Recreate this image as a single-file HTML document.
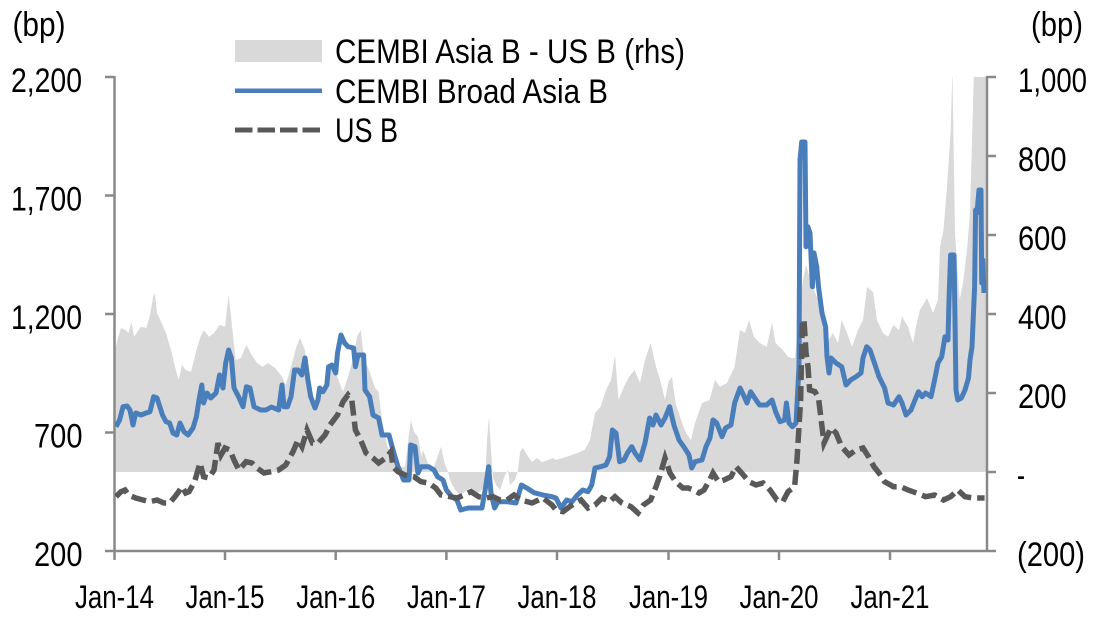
<!DOCTYPE html>
<html>
<head>
<meta charset="utf-8">
<style>
html,body{margin:0;padding:0;background:#fff;}
svg{display:block;}
text{font-family:"Liberation Sans",Arial,sans-serif;fill:#000;}
</style>
</head>
<body>
<svg width="1116" height="634" viewBox="0 0 1116 634" xmlns="http://www.w3.org/2000/svg">
<defs>
<clipPath id="plot"><rect x="115" y="77" width="872" height="474"/></clipPath>
</defs>

<!-- gray spread area (rhs) -->
<polygon clip-path="url(#plot)" fill="#d9d9d9" points="
115,472 115,350 118,338 121,328 125,330 128.6,333 131.4,321.7 134,336.7 137.5,331.7 141,326.7 146.4,328 150,315 153,298 155,293 157,313 162.5,325 166,333 171,350 175,366.7 178.6,380 182,365 185.7,370 191,371.7 196.4,350 200,338 203.6,330 209,336.7 214,333 219.6,325 225,326.7 228.6,295 231.4,320 235.7,360 241,358 246.4,345 251.8,355 257,363 262.5,366.7 268,363 275,368 282,376.7 285.7,385 291,366.7 296.4,346.7 300,338 305,350 309,400 314,410 318,393 323,390 328.6,366.7 334,366.7 339,381.7 343,391.7 348,376.7 353.6,356.7 357,336.7 360.7,330 364,358 369.6,371.7 375,388 378.6,391.7 382,420 387.5,446.7 393,456.7 400,466.7 405,466.7 410.7,420 414,431.7 418,436.7 421.4,456.7 423,450 428.6,465 434,466.7 441,446.7 444.6,463 448,471.7
450,480 455,490 460,495 465,492 470,488 475,494 480,492 485,485 487,440 489,416.7 491,450 493,478 496,485 500,490 505,475 508,470 510,485 515,480 518,470 520,452 523,448 527,455 532,462 537,458 542,462 548,460 553,458
556,460 566.7,456.7 577.4,453 584.6,450 590,440 595,413 600.6,406.7 606,390 611,380 615,355 618.5,400 624,386.7 629,376.7 634.6,370 640,383 645,360 650.6,343 656,366.7 659.6,378 665,400 668.5,381.7 672,376.7 675.6,403 681,420 686,433 691,440 695,423 702,403 709.6,400 715,380 720,386.7 727,383 734.6,366.7 740,330 745,333 749,320 754,336.7 759.6,343 766.7,346.7 772,323 775.6,343 782.8,350 788,356.7 791.7,358 795,358 799,313 803,280 806,265 812,285 818,300 822,316.7 827,343 832.8,333 838,343 841.7,320 847,333 852,346.7 858,330 863,320 867,287 873,292 877,320 883,333 888,336.7 893.5,325 899,330 902,316.7 908,326.7 913,343 916.7,323 920,310 927,298 933,313 938,300 940,247 943.5,230 947,187 950.6,133 952.4,70 953.5,140 955,233 959.6,300 963,283 967,250 970,213 974,70 986,70 986,472"/>

<!-- axes -->
<g stroke="#898989" stroke-width="2.5" fill="none">
<line x1="114.5" y1="76" x2="114.5" y2="552"/>
<line x1="987" y1="76" x2="987" y2="552"/>
<line x1="105" y1="551" x2="987" y2="551"/>
<line x1="105" y1="77" x2="114.5" y2="77"/>
<line x1="105" y1="195.5" x2="114.5" y2="195.5"/>
<line x1="105" y1="314" x2="114.5" y2="314"/>
<line x1="105" y1="432.5" x2="114.5" y2="432.5"/>
<line x1="987" y1="77" x2="996" y2="77"/>
<line x1="987" y1="156" x2="996" y2="156"/>
<line x1="987" y1="235" x2="996" y2="235"/>
<line x1="987" y1="314" x2="996" y2="314"/>
<line x1="987" y1="393" x2="996" y2="393"/>
<line x1="987" y1="472" x2="996" y2="472"/>
<line x1="987" y1="551" x2="996" y2="551"/>
<line x1="114.5" y1="551" x2="114.5" y2="560"/>
<line x1="225" y1="551" x2="225" y2="560"/>
<line x1="335.7" y1="551" x2="335.7" y2="560"/>
<line x1="446.4" y1="551" x2="446.4" y2="560"/>
<line x1="557" y1="551" x2="557" y2="560"/>
<line x1="668.5" y1="551" x2="668.5" y2="560"/>
<line x1="779" y1="551" x2="779" y2="560"/>
<line x1="890" y1="551" x2="890" y2="560"/>
</g>

<!-- blue line -->
<polyline clip-path="url(#plot)" fill="none" stroke="#4a7ebb" stroke-width="5" stroke-linejoin="round" points="
116,426.7 119.6,420 123,406.7 127,406 130,410 133,425 135.7,413 141,415 146,413 150,411.7 153.6,396.7 157,398 162.5,415 166,421.7 169.6,423 173,433 176.8,435 180,423 184,431.7 188,435 193,428 196.4,416.7 199,400 201.8,385 203.6,403 207,393 210.7,398 216,393 219.6,375 223,388 225.7,363 228.6,350 231.4,358 234,388 238.6,396.7 243,406.7 246.4,386.7 250,388 254,406.7 260.7,410 266,410 271.4,407 278.6,410 282,385 284,406.7 287.5,406.7 291,396.7 294.6,370 298,370 301.8,375 305,358 307.9,380 310.7,396.7 315,408 317.9,400 319.6,388 323,391.7 326.8,385 328.6,366.7 332,365 335.7,373 337.5,353 341,335 344.6,343 348,346.7 353.6,348 355.4,366.7 358,355 363.6,355 365,390 369.6,396.7 373,415 378.6,418 382,435 389,435 393,450 398,466.7 403.6,480 409,480 410.7,445 415,446.7 417.9,473 421,466.7 428.6,466.7 434,470 437.5,476.7 443,480 446.4,490 451.8,496.7 457,500 460.7,510 468,508 475,508 482,508 485.7,486.7 488.6,466.7 491,493 494.6,508 498,501.7 507,501.7 516,503 521.4,485 526.8,488 534,492.7 543,495 551.8,496.7 556,498 561,508 566.7,500 572,501.7 577.4,495 582.8,490 588,491.7 591.7,485 595,468 600.6,466.7 606,465 609.6,456.7 612.4,430 616,433 619.6,461.7 624,460 627.4,453 631.7,446.7 635,453 640,460 645,443 649.6,418 653,425 656,415 661,425 665,418 669.6,406.7 673.9,425 679,440 684.6,448 689,455 691.7,468 695,461.7 702,460 706,446.7 710,438 713,420 716.7,423 722,436.7 725.6,428 731,425 734.6,403 740,388 743.5,395 747,403 750.6,391.7 756,400 759.6,405 766.7,405 772,400 775.6,411.7 780,421.7 784.6,420 786.4,403 789,423 792.4,426.7 796,423 799,366.7 800,160 801.7,142 805,142 806,246.7 807.8,226.7 810,233 812.4,286.7 814,253 816.7,266.7 818.5,286.7 822,313 825.6,326.7 827,356.7 829,373 831,358 836,363 841.7,366.7 846,385 850.6,380 856,376.7 861,373 863,358 866.7,346.7 870,350 874,361.7 879,376.7 884.6,388 888,403 893.5,405 899,396.7 902,403 906,415 911,410 915,400 918.5,391.7 922,396.7 925.6,393 931,396.7 934.6,380 938,363 941.7,356.7 945,336.7 948,340 949,300 950.6,255 954,255 955,320 956,390 957.8,400 961.4,398 965,390 968.5,378 970,360 972,346.7 974.6,286.7 975.6,210 977,213 979,190 981,190 981.7,283 982.8,260 984,293"/>

<!-- dashed US B -->
<polyline clip-path="url(#plot)" fill="none" stroke="#595959" stroke-width="5.5" stroke-dasharray="15 6" points="
116,496.7 121,491.7 125,490 128.6,495 135.7,498 143,500 150,501.7 157,500 164,503 169.6,503 175,496.7 178.6,491.7 182,486.7 185.7,493 189,491.7 194.6,481.7 200,463 203.6,476.7 209,478 214,470 218,443 221,455 225,448 230,450 234,460 239,470 246,461.7 252,463 257,468 264,473 271,471.7 278.6,470 285.7,465 293,451.7 298,440 302,446.7 307,430 312.5,443 318,443 325,435 330,425 337.5,415 343,401.7 348,395 351.8,400 355.4,430 360.7,440 366,453 373,458 378.6,463 385.7,458 391,451.7 393,466.7 398,471.7 405,475 414,476.7 421,481.7 428.6,483 435.7,488 441,495 450,496.7 457,498 464,495 471,491.7 478.6,496.7 485.7,498 493,496.7 500,500 507,500 514,495 521,500 532,503 543,498 552,505 556,510 563,511.7 572,505 581,500 588,508 595,505 602,498 609.6,501.7 615,496.7 622,503 631,506.7 638,513 643.5,505 650.6,500 656,486.7 659.6,476.7 665,458 670,473 675.6,481.7 682.8,488 688,488 693.5,490 699,493 704,490 709.6,480 713,473 718.5,481.7 724,480 731,476.7 736,466.7 741.7,473 749,481.7 756,485 763,483 770,490 777,500 782.8,501.7 788,491.7 794.6,486.7 797,460 800.6,400 802.4,320 804,320 806,353 808,366.7 809.6,390 815,391.7 818.5,398 824,443 831,428 836,433 841.7,446.7 849,455 856,450 863,448 868.5,456.7 874,466.7 879,473 884.6,481.7 893.5,486.7 900.6,486.7 908,490 916.7,493 925.6,496.7 934.6,495 943.5,500 950.6,496.7 957.8,490 965,496.7 974,498 984.6,498"/>

<!-- legend -->
<rect x="235" y="40" width="87" height="22" fill="#d9d9d9"/>
<line x1="235" y1="90.7" x2="322" y2="90.7" stroke="#4a7ebb" stroke-width="4.5"/>
<line x1="235" y1="130" x2="322" y2="130" stroke="#595959" stroke-width="5" stroke-dasharray="17.5 5"/>
<text x="335" y="63" font-size="34" textLength="350" lengthAdjust="spacingAndGlyphs">CEMBI Asia B - US B (rhs)</text>
<text x="335" y="103" font-size="34" textLength="273" lengthAdjust="spacingAndGlyphs">CEMBI Broad Asia B</text>
<text x="335" y="142" font-size="34" textLength="63" lengthAdjust="spacingAndGlyphs">US B</text>

<!-- unit labels -->
<text x="12.5" y="36" font-size="34" textLength="53" lengthAdjust="spacingAndGlyphs">(bp)</text>
<text x="1031" y="36" font-size="34" textLength="52" lengthAdjust="spacingAndGlyphs">(bp)</text>

<!-- left tick labels -->
<text x="11" y="92" font-size="34" textLength="71" lengthAdjust="spacingAndGlyphs">2,200</text>
<text x="11" y="210.5" font-size="34" textLength="71" lengthAdjust="spacingAndGlyphs">1,700</text>
<text x="11" y="329" font-size="34" textLength="71" lengthAdjust="spacingAndGlyphs">1,200</text>
<text x="34" y="447.5" font-size="34" textLength="48.5" lengthAdjust="spacingAndGlyphs">700</text>
<text x="34" y="566" font-size="34" textLength="48.5" lengthAdjust="spacingAndGlyphs">200</text>

<!-- right tick labels -->
<text x="1018" y="92" font-size="34" textLength="69" lengthAdjust="spacingAndGlyphs">1,000</text>
<text x="1018" y="171" font-size="34" textLength="48.5" lengthAdjust="spacingAndGlyphs">800</text>
<text x="1018" y="250" font-size="34" textLength="48.5" lengthAdjust="spacingAndGlyphs">600</text>
<text x="1018" y="329" font-size="34" textLength="48.5" lengthAdjust="spacingAndGlyphs">400</text>
<text x="1018" y="408" font-size="34" textLength="48.5" lengthAdjust="spacingAndGlyphs">200</text>
<text x="1017" y="487" font-size="34" textLength="8" lengthAdjust="spacingAndGlyphs">-</text>
<text x="1017" y="566" font-size="34" textLength="68" lengthAdjust="spacingAndGlyphs">(200)</text>

<!-- x labels -->
<text x="75" y="608" font-size="32" textLength="79" lengthAdjust="spacingAndGlyphs">Jan-14</text>
<text x="185.5" y="608" font-size="32" textLength="79" lengthAdjust="spacingAndGlyphs">Jan-15</text>
<text x="296.2" y="608" font-size="32" textLength="79" lengthAdjust="spacingAndGlyphs">Jan-16</text>
<text x="406.9" y="608" font-size="32" textLength="79" lengthAdjust="spacingAndGlyphs">Jan-17</text>
<text x="517.5" y="608" font-size="32" textLength="79" lengthAdjust="spacingAndGlyphs">Jan-18</text>
<text x="629" y="608" font-size="32" textLength="79" lengthAdjust="spacingAndGlyphs">Jan-19</text>
<text x="739.5" y="608" font-size="32" textLength="79" lengthAdjust="spacingAndGlyphs">Jan-20</text>
<text x="850.5" y="608" font-size="32" textLength="79" lengthAdjust="spacingAndGlyphs">Jan-21</text>
</svg>
</body>
</html>
